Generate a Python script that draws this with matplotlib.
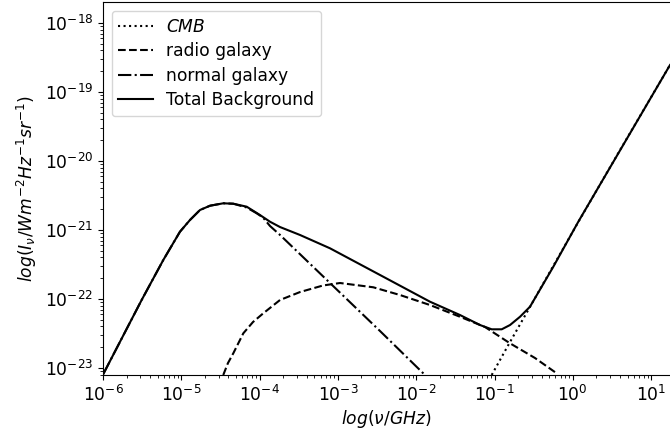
import numpy as np
import matplotlib
matplotlib.use("Agg")
import matplotlib.pyplot as plt

# values (log10 of frequency in GHz, log10 of intensity)
total_lognu = [-5.996, -5.506, -5.230, -5.017, -4.889, -4.761, -4.633, -4.464, -4.336,
               -4.165, -3.995, -3.867, -3.739, -3.484, -3.101, -2.462, -1.824, -1.441,
               -1.185, -1.036, -0.908, -0.802, -0.674, -0.547, -0.249, 0.070, 1.241]
total_logI = [-23.087, -22.014, -21.435, -21.025, -20.855, -20.710, -20.648, -20.613, -20.619,
              -20.662, -20.783, -20.880, -20.957, -21.072, -21.265, -21.652, -22.039, -22.232,
              -22.377, -22.439, -22.439, -22.377, -22.257, -22.112, -21.532, -20.880, -18.609]

normal_lognu = [-5.996, -5.506, -5.230, -5.017, -4.889, -4.761, -4.633, -4.464, -4.336,
                -4.165, -4.037, -3.957, -3.867, -3.739, -3.101, -2.462, -1.880]
normal_logI = [-23.087, -22.014, -21.435, -21.025, -20.855, -20.710, -20.648, -20.613, -20.619,
               -20.674, -20.758, -20.819, -20.942, -21.072, -21.768, -22.464, -23.110]

radio_lognu = [-4.464, -4.404, -4.336, -4.208, -4.084, -3.953, -3.739, -3.484, -3.190, -2.973,
               -2.548, -2.207, -1.824, -1.441, -1.121, -0.802, -0.483, -0.206]
radio_logI = [-23.101, -22.928, -22.787, -22.497, -22.333, -22.207, -22.014, -21.899, -21.804,
              -21.768, -21.830, -21.942, -22.087, -22.257, -22.406, -22.642, -22.855, -23.077]

cmb_lognu = [-1.036, -0.824, -0.461, 0.070, 0.603, 1.241]
cmb_logI = [-23.101, -22.667, -21.942, -20.884, -19.841, -18.609]

xtick_exps = [-6, -5, -4, -3, -2, -1, 0, 1]
ytick_exps = [-23, -22, -21, -20, -19, -18]

plt.rcParams['font.size'] = 12.3

fig = plt.figure(figsize=(6.7, 4.37), dpi=100)
ax = fig.add_axes([0.1537, 0.1419, 0.8463, 0.8524])

ax.plot(10 ** np.array(cmb_lognu), 10 ** np.array(cmb_logI), 'k:', lw=1.5, label='$CMB$')
ax.plot(10 ** np.array(radio_lognu), 10 ** np.array(radio_logI), 'k--', lw=1.5, label='radio galaxy')
ax.plot(10 ** np.array(normal_lognu), 10 ** np.array(normal_logI), 'k-.', lw=1.5, label='normal galaxy')
ax.plot(10 ** np.array(total_lognu), 10 ** np.array(total_logI), 'k-', lw=1.5, label='Total Background')

ax.set_xscale('log')
ax.set_yscale('log')
ax.set_xticks([10.0 ** e for e in xtick_exps])
ax.set_yticks([10.0 ** e for e in ytick_exps])
ax.set_xlim(1e-6, 10 ** 1.241)
ax.set_ylim(10 ** -23.101, 10 ** -17.703)
ax.spines['right'].set_visible(False)

ax.set_xlabel(r'$log(\nu/GHz)$', labelpad=2)
ax.set_ylabel(r'$log(I_\nu/Wm^{-2}Hz^{-1}sr^{-1})$')
ax.legend(loc='upper left', labelspacing=0.38)

fig.savefig('out.png', dpi=100)
